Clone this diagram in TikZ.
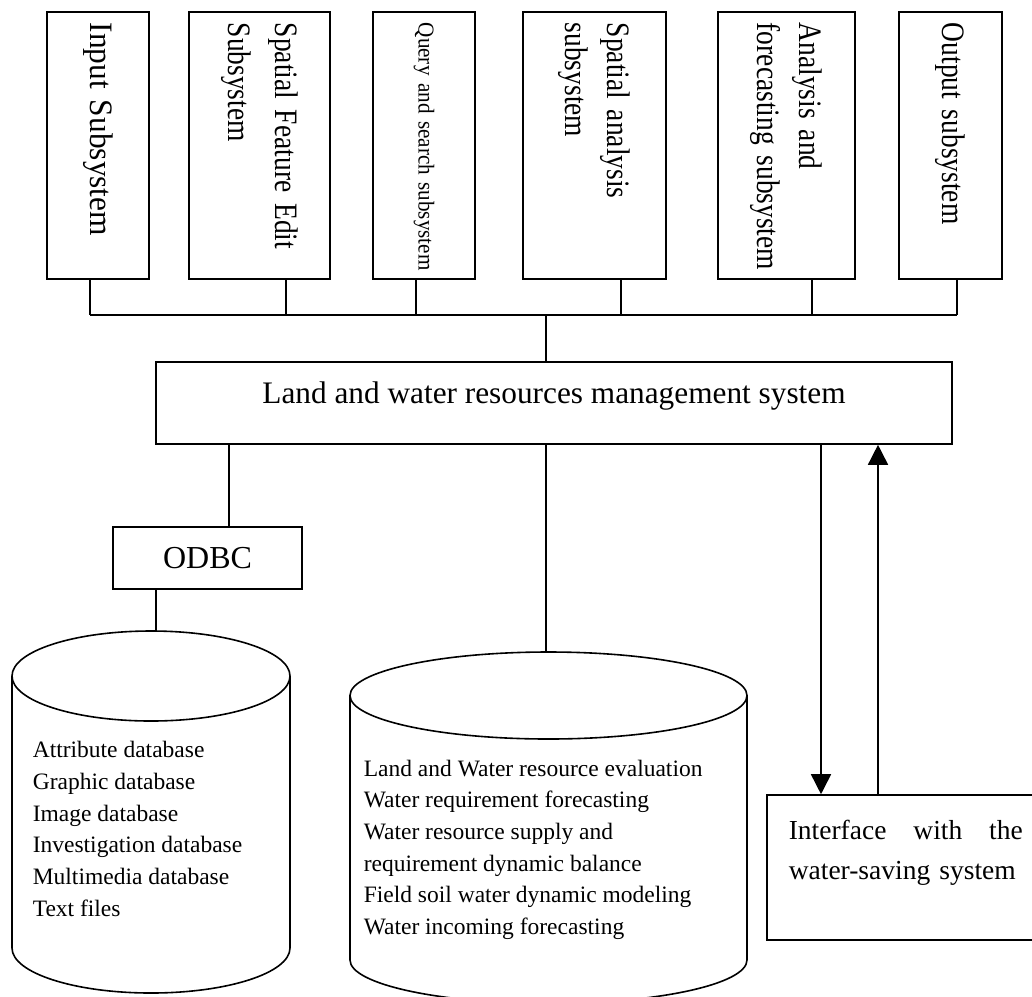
\documentclass[tikz,border=0pt]{standalone}
\usepackage{fontspec}
\setmainfont{Liberation Serif}
\newfontfamily\narrowserif[FakeStretch=0.84]{Liberation Serif}
\newfontfamily\wideserif[FakeStretch=0.96]{Liberation Serif}
\newfontfamily\queryserif[FakeStretch=0.93]{Liberation Serif}
\usetikzlibrary{arrows.meta}
\tikzset{>={Triangle[width=20pt,length=20pt]}}

\begin{document}
\begin{tikzpicture}[x=1pt, y=-1pt, line width=1.6pt,
    subbox/.style={draw, rotate=-90, minimum width=267pt, text width=245pt, inner xsep=11pt, align=left},
    box/.style={draw, inner sep=0pt}]
  \useasboundingbox (0,0) rectangle (1032,996);
  \clip (0,0) rectangle (1032,996);
  % subsystems (rotated: east is the bottom side)
  \node[subbox, minimum height=102pt, font={\wideserif\fontsize{32.7}{41.5}\selectfont\spaceskip 7.8pt\relax}] (b1) at (98,145.3) {Input Subsystem};
  \node[subbox, minimum height=141pt, font={\narrowserif\fontsize{32.7}{46.7}\selectfont\spaceskip 6.9pt\relax}] (b2) at (259.5,145.3) {Spatial Feature Edit\\Subsystem};
  \node[subbox, minimum height=102pt, font={\queryserif\fontsize{22.7}{30}\selectfont\spaceskip 5.3pt\relax}] (b3) at (424,145.3) {\mbox{Query and search subsystem}};
  \node[subbox, minimum height=143pt, font={\narrowserif\fontsize{32.7}{41.5}\selectfont\spaceskip 6.9pt\relax}] (b4) at (594.5,145.3) {Spatial analysis\\subsystem};
  \node[subbox, minimum height=137pt, font={\narrowserif\fontsize{32.7}{41.5}\selectfont\spaceskip 6.9pt\relax}] (b5) at (786.5,145.3) {Analysis and\\\mbox{forecasting subsystem}};
  \node[subbox, minimum height=103pt, font={\narrowserif\fontsize{32.7}{41.5}\selectfont\spaceskip 6.9pt\relax}] (b6) at (950.5,145.3) {Output subsystem};

  % bus
  \coordinate (t1) at (90,315);
  \coordinate (t2) at (286,315);
  \coordinate (t3) at (416,315);
  \coordinate (t4) at (621,315);
  \coordinate (t5) at (812,315);
  \coordinate (t6) at (957,315);
  \coordinate (t0) at (546,315);
  \foreach \i in {1,...,6}
    \draw (b\i.east -| t\i) -- (t\i);
  \draw (t1) -- (t6);

  \node[box, minimum width=796pt, text height=41pt, text depth=41pt, font=\fontsize{31.3}{36}\selectfont] (lwrms) at (554,403) {Land and water resources management system};
  \draw (t0) -- (lwrms.north -| t0);

  % ODBC
  \node[box, minimum width=189pt, minimum height=62pt, font=\fontsize{32}{36}\selectfont] (odbc) at (207.5,558) {ODBC};
  \coordinate (m1) at (229,480);
  \draw (lwrms.south -| m1) -- (odbc.north -| m1);

  % database 1
  \draw (151,676) ellipse [x radius=139, y radius=45];
  \draw (12,676) -- (12,948) arc [start angle=180, end angle=0, x radius=139, y radius=45] -- (290,676);
  \coordinate (c1) at (156,631);
  \draw (odbc.south -| c1) -- (c1);
  \node[anchor=north west, align=left, inner sep=0pt, font=\fontsize{23.5}{31.7}\selectfont] (db1) at (32,740.7)
    {Attribute database\\Graphic database\\Image database\\Investigation database\\Multimedia database\\Text files};

  % database 2
  \draw (548.5,695.5) ellipse [x radius=198.5, y radius=43.5];
  \draw (350,695.5) -- (350,960) arc [start angle=180, end angle=0, x radius=198.5, y radius=43.5] -- (747,695.5);
  \coordinate (c2) at (546,652);
  \draw (lwrms.south -| c2) -- (c2);
  \node[anchor=north west, align=left, inner sep=0pt, font=\fontsize{23.5}{31.7}\selectfont] (db2) at (363,759)
    {Land and Water resource evaluation\\Water requirement forecasting\\Water resource supply and\\requirement dynamic balance\\Field soil water dynamic modeling\\Water incoming forecasting};

  % interface
  \node[box, minimum width=278pt, minimum height=145pt] (iface) at (906,867.5) {};
  \node[anchor=north west, text width=234pt, align=left, inner sep=0pt, font=\fontsize{27.5}{40}\selectfont] (ifacetxt) at (788,819)
    {Interface\hfill with\hfill the\\water-saving system};
  \coordinate (a1) at (821,600);
  \coordinate (a2) at (878,600);
  \draw[->] (lwrms.south -| a1) -- (iface.north -| a1);
  \draw[->] (iface.north -| a2) -- (lwrms.south -| a2);
\end{tikzpicture}
\end{document}
